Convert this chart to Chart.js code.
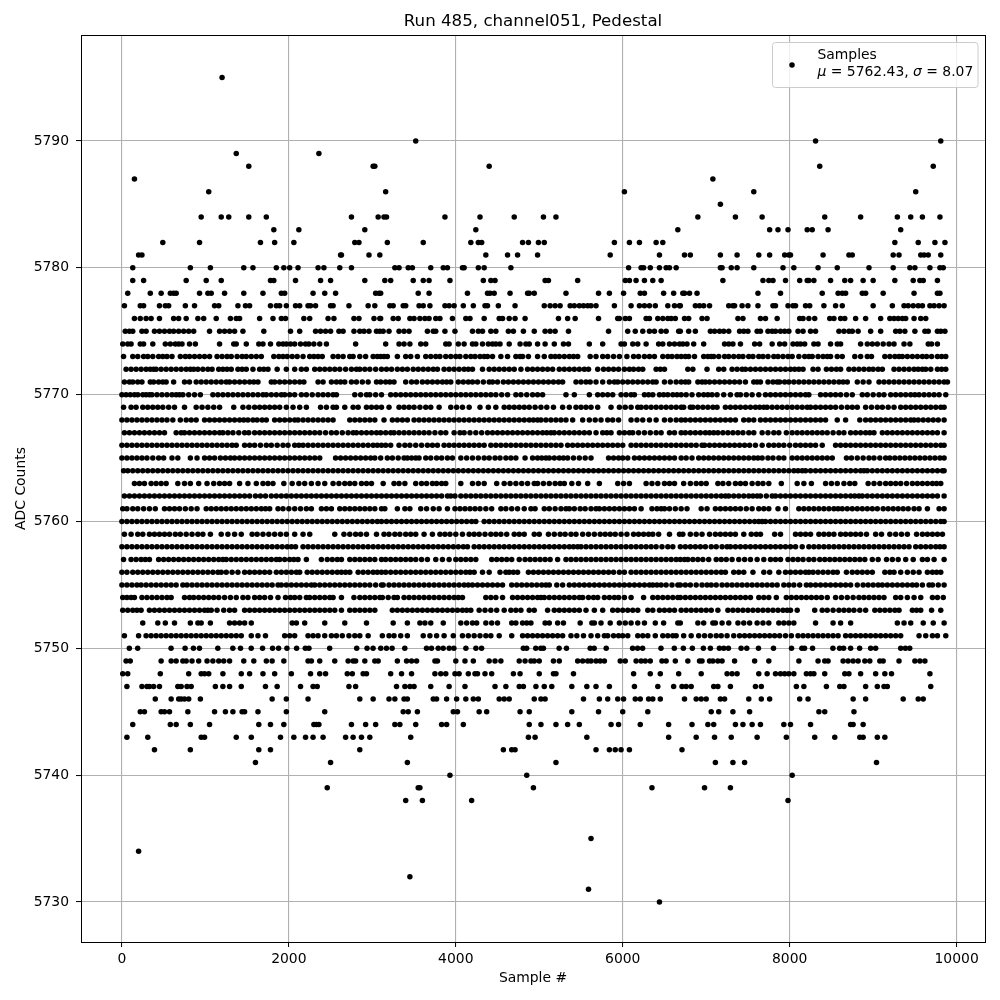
<!DOCTYPE html>
<html lang="en">
<head>
<meta charset="UTF-8">
<title>Run 485, channel051, Pedestal</title>
<script src="https://cdn.jsdelivr.net/npm/chart.js"></script>
<style>
    html, body { margin: 0; background: #fff; }
    canvas { display: block; }
</style>
</head>
<body>
<canvas id="pedestalChart" width="1000" height="1000"></canvas>
<script>
const chartTitle = 'Run 485, channel051, Pedestal';
const xLabel = 'Sample #';
const yLabel = 'ADC Counts';
const seriesLabel = 'Samples';
const meanText = '5762.43';
const sigmaText = '8.07';
const xTicks = [0, 2000, 4000, 6000, 8000, 10000];
const yTicks = [5730, 5740, 5750, 5760, 5770, 5780, 5790];

// Sample numbers, one list per ADC level
const row5795 = [1200];
const row5790 = [3520,8310,9810];
const row5789 = [1370,2360];
const row5788 = [1520,3010,3030,4400,8360,9720];
const row5787 = [150,7080];
const row5786 = [1040,3160,6020,7570,9510];
const row5785 = [7170];
const row5784 = [950,1190,1280,1520,1730,2750,3070,3140,3170,3870,4290,4700,5050,5200,6900,7350,7670,8420,8850,9290,9450,9590,9800];
const row5783 = [1820,2120,2910,4240,6660,7760,7860,7980,8210,8270,8460,9330];
const row5782 = [490,930,1660,1830,2060,2790,2840,3180,3610,4180,4270,4310,4800,4870,4990,5060,5900,6080,6200,6400,6480,9260,9540,9740,9860];
const row5781 = [200,240,2620,2630,2960,3090,4360,4620,4740,4980,5850,6440,6740,6810,7170,7370,7630,7760,7940,7990,8010,8400,8710,8750,9240,9310,9570,9610,9660,9810];
const row5780 = [130,820,1060,1460,1570,1850,1940,2010,2110,2350,2420,2610,2750,3270,3320,3430,3480,3700,3850,3900,4080,4100,4270,4340,4660,6070,6220,6250,6330,6440,6520,6560,6640,7170,7190,7300,7370,7570,7920,8050,8340,8570,8950,9240,9440,9500,9680,9800,9840];
const row5779 = [130,260,770,1010,1190,1780,1820,2080,2380,2500,2910,3150,3220,3490,3610,3680,3930,4330,4420,4470,5070,5110,5460,6030,6080,6160,6260,6360,6460,7200,7680,7750,7800,7950,8120,8210,8230,8290,8490,8660,8730,8880,9000,9260,9480,9560,9600,9770];
const row5778 = [70,340,470,580,620,650,930,1030,1070,1230,1460,1690,1910,1950,2290,2430,2560,3040,3080,3100,3550,3680,4140,4380,4410,4460,4650,4860,4880,4940,5320,5710,5840,6010,6210,6260,6490,6610,6720,6740,6800,6890,7620,7890,8390,8580,8630,8670,8870,8910,9120,9490,9770,9800];
const row5777 = [30,220,260,450,520,560,760,870,1110,1160,1390,1480,1530,1780,1850,1890,1970,2080,2130,2230,2260,2320,2500,2530,2720,2950,3030,3210,3250,3370,3400,3560,3610,3690,3870,3920,3980,4090,4210,4350,4380,4510,4710,5060,5130,5190,5250,5370,5420,5480,5530,5580,5620,5680,5900,6100,6200,6260,6320,6390,6540,6620,6680,6690,6870,6920,6970,7040,7270,7320,7340,7430,7500,7620,7800,7830,7980,8040,8070,8190,8240,8410,8550,8630,9000,9230,9370,9420,9480,9540,9590,9680,9730,9790,9850];
const row5776 = [150,220,290,350,450,620,680,770,910,980,1130,1300,1370,1410,1650,1810,1910,1960,2180,2250,2470,2540,2780,2840,3020,3090,3100,3250,3310,3450,3500,3570,3630,3680,3760,3810,3960,4120,4170,4340,4520,4560,4640,4710,4830,5230,5340,5430,5710,5940,5960,6030,6080,6280,6320,6420,6480,6540,6580,6630,6740,6790,6950,7010,7380,7440,7650,7710,7850,8120,8160,8230,8300,8480,8530,8610,8660,8790,8910,9090,9200,9250,9300,9350,9390,9490,9570,9630];
const row5775 = [40,90,130,240,290,390,450,510,570,620,680,740,800,860,1050,1170,1230,1290,1350,1450,1700,2020,2130,2320,2380,2440,2500,2600,2650,2780,2850,2900,2960,3050,3090,3130,3200,3320,3380,3440,3660,3730,3760,3870,3990,4200,4270,4320,4420,4480,4630,4690,4810,4940,5070,5130,5190,5350,5830,6060,6150,6240,6320,6380,6460,6520,6670,6690,6790,6870,7050,7100,7160,7210,7270,7400,7450,7500,7610,7650,7740,7790,7830,7890,7940,7990,8100,8160,8250,8310,8590,8650,8710,8750,8820,8970,9090,9270,9320,9380,9500,9620,9660,9770,9810,9860];
const row5774 = [10,70,110,220,260,370,520,580,640,680,720,810,880,1170,1340,1370,1490,1640,1690,1780,1880,1930,1970,2020,2070,2140,2200,2240,2300,2370,2450,2800,3160,3320,3380,3450,3580,3640,3880,3920,4030,4100,4200,4240,4320,4390,4440,4480,4530,4640,4770,4840,4880,4980,5070,5180,5290,5350,5600,5760,5980,6020,6120,6180,6280,6430,6480,6560,6620,6680,6720,6770,6850,6970,7220,7270,7320,7410,7580,7640,7790,7880,7940,8040,8090,8130,8180,8290,8340,8490,8570,8610,8850,8930,8990,9050,9120,9190,9250,9370,9440,9660,9700,9770];
const row5773 = [20,130,190,260,310,370,440,490,540,600,700,760,810,870,930,990,1050,1140,1200,1260,1310,1380,1440,1490,1550,1610,1670,1820,1880,1930,1980,2040,2100,2170,2250,2300,2350,2400,2530,2590,2650,2730,2770,2850,2920,3010,3060,3100,3140,3180,3300,3400,3460,3540,3640,3700,3760,3810,3880,3940,4000,4050,4120,4180,4230,4290,4340,4380,4440,4540,4620,4720,4770,4800,4870,4980,5060,5140,5190,5240,5300,5360,5410,5460,5610,5680,5760,5820,5890,5960,6050,6130,6190,6260,6320,6380,6480,6540,6590,6650,6700,6750,6790,6860,6970,7020,7060,7090,7150,7220,7270,7330,7390,7440,7510,7560,7630,7680,7740,7810,7860,7920,7980,8030,8110,8180,8230,8270,8340,8400,8450,8490,8570,8630,8780,8850,8930,8980,9140,9200,9260,9310,9350,9410,9470,9530,9590,9640,9700,9770,9820,9870];
const row5772 = [50,110,170,230,290,340,380,410,470,530,590,650,710,770,820,860,910,970,1030,1080,1160,1210,1260,1310,1390,1440,1490,1570,1650,1700,1750,1860,1970,2070,2150,2210,2310,2370,2430,2490,2550,2610,2680,2750,2810,2850,2910,2970,3040,3110,3170,3230,3300,3360,3420,3490,3550,3610,3670,3730,3780,3860,3920,3980,4040,4100,4150,4200,4320,4400,4460,4520,4580,4640,4700,4780,4860,4920,4980,5040,5100,5160,5240,5300,5360,5420,5480,5540,5590,5700,5770,5830,5890,5950,6020,6080,6130,6190,6240,6400,6450,6500,6780,6840,7010,7150,7210,7310,7370,7430,7470,7530,7590,7650,7710,7770,7830,7890,7950,8010,8060,8110,8160,8280,8340,8440,8500,8560,8610,8710,8770,8830,8890,8950,9000,9060,9110,9250,9310,9370,9430,9490,9540,9590,9630,9690,9770,9820,9870];
const row5771 = [30,90,130,190,240,340,380,440,490,530,620,750,810,890,950,1010,1070,1130,1190,1250,1290,1350,1410,1470,1530,1580,1630,1790,1830,1890,1950,2010,2070,2130,2180,2350,2410,2510,2570,2620,2670,2750,2810,2880,2950,3050,3100,3160,3210,3260,3400,3470,3530,3600,3660,3720,3780,3840,3890,3940,4030,4090,4150,4200,4260,4330,4400,4440,4500,4570,4630,4690,4750,4810,4870,4930,4990,5050,5110,5170,5230,5280,5440,5500,5560,5610,5680,5760,5840,5900,5940,6000,6060,6120,6180,6240,6300,6360,6400,6500,6570,6640,6700,6750,6790,6900,6950,6990,7040,7100,7160,7220,7280,7340,7400,7470,7570,7610,7650,7740,7800,7850,7880,7940,7990,8050,8110,8170,8230,8290,8350,8410,8470,8530,8590,8640,8690,8810,8880,8950,9070,9130,9190,9250,9310,9370,9430,9490,9550,9610,9670,9730,9790,9850,9890];
const row5770 = [0,50,100,150,190,250,290,330,360,420,480,540,600,650,690,730,800,870,940,1090,1150,1210,1270,1330,1390,1450,1510,1570,1630,1690,1730,1790,1850,1910,1950,2010,2070,2150,2210,2280,2350,2410,2470,2530,2570,2790,2860,2930,2970,3040,3110,3220,3280,3340,3400,3460,3520,3580,3640,3700,3760,3820,3880,3940,4000,4060,4120,4180,4240,4300,4360,4420,4480,4550,4620,4720,4780,4850,4920,4980,5040,5320,5420,5600,5700,5760,5820,5880,5980,6040,6100,6140,6260,6310,6360,6440,6490,6540,6600,6650,6700,6760,6830,6910,6970,7020,7070,7130,7210,7290,7370,7410,7480,7550,7630,7710,7770,7830,7890,7950,8010,8070,8130,8190,8230,8370,8430,8490,8550,8610,8680,8750,8870,8930,9000,9070,9130,9210,9270,9330,9390,9450,9500,9550,9610,9670,9730,9790,9870];
const row5769 = [20,110,170,250,310,370,430,490,560,630,750,890,960,1030,1100,1170,1340,1450,1520,1590,1650,1710,1770,1830,1890,1970,2050,2130,2210,2380,2450,2530,2570,2670,2770,2830,2930,2990,3050,3110,3200,3320,3380,3440,3500,3570,3640,3700,3800,3940,4010,4080,4160,4290,4390,4480,4580,4640,4700,4760,4820,4880,4950,5020,5090,5170,5280,5360,5440,5500,5560,5620,5700,5860,5960,6030,6100,6180,6220,6280,6340,6400,6460,6520,6580,6640,6700,6730,6810,6840,6900,6960,7020,7080,7130,7230,7290,7350,7410,7470,7530,7590,7640,7690,7730,7790,7850,7910,7970,8030,8090,8150,8210,8250,8310,8370,8430,8490,8550,8620,8690,8750,8810,8910,8980,9050,9110,9180,9250,9330,9390,9450,9510,9570,9630,9690,9750,9810,9850];
const row5768 = [0,60,120,180,240,300,360,420,480,540,610,700,770,830,890,990,1050,1110,1170,1230,1290,1350,1410,1460,1510,1570,1620,1680,1730,1830,1890,1950,2010,2070,2110,2170,2230,2290,2350,2410,2470,2530,2730,2790,2850,2910,2970,3030,3140,3240,3300,3360,3420,3500,3560,3620,3680,3740,3800,3860,3920,3980,4040,4100,4160,4220,4280,4340,4400,4460,4520,4580,4640,4700,4760,4820,4880,4930,4980,5020,5080,5140,5200,5260,5320,5400,5520,5600,5670,5740,5820,5880,5950,6100,6170,6240,6320,6400,6500,6570,6640,6700,6750,6810,6870,6930,6990,7050,7110,7170,7230,7290,7350,7450,7510,7570,7650,7710,7770,7830,7890,7950,8010,8070,8130,8190,8250,8310,8370,8430,8570,8670,8840,8910,8970,9030,9090,9150,9210,9270,9330,9390,9450,9490,9540,9600,9660,9720,9780,9850];
const row5767 = [30,90,150,210,270,330,390,450,510,650,710,750,810,870,930,990,1050,1110,1170,1210,1270,1330,1400,1470,1520,1590,1650,1710,1770,1830,1890,1950,2010,2070,2130,2190,2250,2310,2370,2440,2510,2570,2640,2710,2770,2810,2870,2930,2990,3050,3100,3160,3220,3260,3320,3380,3440,3500,3560,3620,3680,3750,3820,3880,3980,4050,4100,4170,4240,4310,4380,4440,4500,4560,4620,4680,4740,4800,4860,4920,4980,5040,5090,5140,5180,5240,5300,5360,5420,5480,5540,5600,5680,5760,5810,5860,5960,6020,6080,6120,6190,6260,6330,6400,6460,6560,6620,6700,6750,6810,6870,6930,6990,7040,7090,7140,7200,7260,7320,7380,7440,7510,7570,7670,7740,7810,7870,7960,8030,8090,8150,8210,8270,8330,8390,8450,8520,8590,8650,8730,8790,8850,8910,8960,9010,9110,9170,9230,9290,9350,9410,9470,9530,9590,9650,9710,9770,9850];
const row5766 = [0,60,120,180,240,300,360,420,480,540,600,660,720,780,840,900,960,1020,1080,1140,1200,1260,1320,1370,1470,1530,1590,1660,1730,1790,1860,1930,1990,2070,2120,2170,2230,2290,2350,2410,2470,2530,2590,2650,2710,2770,2830,2890,2950,3010,3060,3110,3160,3220,3320,3390,3450,3520,3590,3660,3720,3780,3860,3920,3980,4040,4100,4160,4220,4280,4340,4420,4480,4540,4600,4660,4720,4780,4840,4900,4960,5020,5080,5140,5200,5260,5340,5400,5460,5520,5580,5640,5700,5760,5820,5880,5940,6000,6100,6160,6220,6280,6340,6400,6460,6520,6580,6640,6700,6760,6820,6880,6950,6980,7040,7100,7160,7220,7280,7340,7400,7460,7520,7590,7670,7750,7810,7870,7930,8000,8070,8130,8190,8250,8310,8390,8550,8610,8670,8730,8790,8850,8910,8970,9030,9090,9150,9210,9270,9330,9390,9450,9510,9570,9630,9690,9750,9810,9850];
const row5765 = [0,60,120,180,240,300,370,440,500,600,670,820,900,990,1050,1110,1180,1240,1300,1350,1410,1470,1530,1590,1650,1710,1770,1830,1890,1950,2010,2070,2130,2190,2250,2310,2370,2560,2620,2680,2740,2800,2860,2920,2980,3030,3100,3180,3240,3310,3380,3420,3470,3520,3560,3640,3700,3770,3830,3900,3960,4060,4130,4200,4270,4340,4400,4470,4530,4600,4660,4720,4830,4920,4980,5030,5080,5120,5180,5240,5290,5340,5410,5480,5550,5620,5830,5890,5950,6000,6060,6140,6200,6260,6320,6380,6440,6500,6560,6620,6700,6760,6830,6910,6970,7030,7090,7150,7210,7270,7330,7390,7450,7510,7570,7620,7670,7740,7800,7870,7930,8030,8090,8150,8210,8270,8330,8390,8450,8510,8680,8740,8810,8880,8950,9010,9080,9150,9200,9260,9320,9380,9440,9500,9560,9620,9680,9740,9800,9850];
const row5764 = [20,70,130,190,250,310,370,430,490,550,610,670,730,790,850,910,970,1030,1090,1150,1210,1270,1330,1390,1450,1510,1570,1630,1690,1750,1810,1870,1930,1990,2050,2110,2170,2230,2290,2350,2410,2470,2530,2590,2650,2710,2770,2830,2890,2950,3010,3070,3130,3190,3250,3310,3370,3430,3490,3550,3610,3670,3730,3790,3850,3910,3970,4030,4090,4150,4210,4270,4330,4390,4450,4510,4570,4630,4690,4750,4810,4870,4930,4990,5050,5110,5170,5230,5290,5350,5410,5470,5530,5590,5650,5710,5770,5830,5890,5950,6010,6070,6130,6190,6250,6310,6370,6430,6490,6550,6610,6670,6730,6790,6850,6910,6970,7030,7090,7150,7210,7270,7330,7390,7450,7510,7570,7630,7690,7750,7810,7870,7930,7990,8050,8100,8150,8190,8250,8310,8370,8430,8490,8550,8610,8670,8730,8790,8850,8890,8930,8990,9050,9110,9170,9230,9290,9350,9410,9470,9530,9590,9650,9710,9770,9830,9850];
const row5763 = [150,210,270,350,410,470,530,670,750,820,920,1020,1100,1170,1230,1290,1410,1510,1610,1690,1750,1810,1940,2040,2120,2190,2270,2350,2430,2530,2600,2670,2730,2790,2870,2930,2990,3130,3260,3320,3390,3520,3590,3650,3720,3770,3830,3880,4060,4200,4270,4340,4490,4580,4650,4720,4790,4860,4940,4980,5050,5120,5190,5250,5300,5390,5470,5580,5720,5940,6010,6080,6280,6350,6420,6500,6560,6620,6730,6810,6880,6940,7000,7140,7200,7270,7350,7410,7470,7550,7620,7680,7750,7900,8090,8170,8260,8430,8500,8570,8650,8720,8780,8940,9010,9080,9150,9210,9270,9330,9400,9470,9530,9590,9650,9710,9760,9810];
const row5762 = [30,90,150,210,270,330,390,450,510,570,630,690,750,810,870,930,990,1050,1110,1170,1230,1290,1350,1410,1470,1530,1600,1660,1720,1790,1850,1910,1970,2030,2090,2150,2210,2270,2330,2390,2450,2510,2570,2630,2690,2750,2810,2870,2930,2990,3050,3110,3170,3230,3290,3350,3410,3470,3530,3590,3650,3710,3770,3830,3900,3940,3990,4060,4120,4180,4240,4300,4360,4420,4480,4540,4600,4660,4720,4780,4840,4900,4960,5020,5080,5140,5200,5260,5320,5380,5440,5500,5560,5620,5680,5740,5800,5860,5920,5980,6040,6100,6160,6220,6280,6340,6400,6460,6520,6580,6640,6700,6760,6820,6880,6940,7000,7060,7120,7180,7230,7270,7330,7390,7450,7510,7560,7610,7650,7720,7790,7830,7890,7950,8010,8070,8130,8190,8250,8310,8370,8430,8490,8550,8610,8670,8730,8780,8830,8870,8930,8990,9050,9110,9170,9230,9290,9350,9410,9470,9530,9590,9650,9710,9770,9850];
const row5761 = [10,60,130,190,260,330,400,510,570,630,690,760,830,900,1010,1070,1130,1190,1250,1310,1370,1430,1490,1550,1610,1670,1720,1770,1870,1930,2000,2070,2140,2210,2270,2390,2450,2510,2610,2670,2730,2790,2850,2910,2970,3030,3110,3150,3300,3390,3450,3580,3650,3730,3800,3900,3990,4050,4110,4170,4230,4290,4360,4430,4540,4600,4670,4740,4820,4900,4950,5060,5120,5190,5260,5320,5360,5420,5490,5550,5620,5680,5720,5780,5840,5900,5960,6020,6080,6140,6220,6350,6410,6460,6500,6560,6630,6700,6770,6940,7010,7110,7170,7230,7290,7350,7410,7480,7550,7630,7690,7750,7860,7950,8110,8170,8230,8290,8350,8410,8470,8530,8580,8630,8690,8750,8810,8870,8930,8990,9050,9120,9180,9240,9300,9360,9420,9490,9550,9650,9790,9850];
const row5760 = [0,60,120,180,240,300,360,420,480,540,600,660,720,780,840,900,960,1020,1080,1140,1200,1260,1320,1380,1440,1500,1560,1620,1680,1740,1800,1860,1920,1980,2040,2100,2160,2220,2280,2340,2400,2460,2520,2580,2640,2700,2760,2820,2880,2940,3000,3060,3110,3170,3230,3290,3350,3410,3470,3530,3590,3650,3710,3770,3830,3890,3950,4010,4070,4130,4190,4240,4340,4400,4460,4520,4580,4640,4700,4760,4820,4880,4940,5000,5060,5120,5180,5240,5300,5360,5420,5480,5540,5600,5660,5720,5780,5840,5900,5960,6020,6080,6140,6200,6260,6320,6380,6440,6500,6560,6620,6680,6740,6800,6860,6920,6980,7040,7100,7160,7220,7280,7340,7400,7460,7520,7580,7630,7670,7710,7770,7830,7890,7950,8010,8070,8130,8190,8250,8310,8370,8430,8490,8550,8610,8670,8730,8790,8850,8910,8970,9030,9090,9150,9210,9270,9330,9390,9450,9510,9570,9630,9690,9750,9810,9850];
const row5759 = [30,110,190,250,330,390,450,510,570,640,700,770,840,910,970,1060,1190,1270,1350,1430,1560,1620,1690,1760,1830,1900,1970,2070,2170,2250,2550,2660,2730,2800,2860,2930,3050,3140,3200,3270,3330,3400,3460,3520,3620,3720,3810,3870,3930,4000,4080,4160,4220,4280,4350,4420,4480,4540,4610,4700,4760,4820,4940,5000,5110,5180,5250,5310,5380,5440,5520,5590,5660,5730,5790,5850,5910,5980,6050,6130,6190,6250,6310,6360,6430,6560,6680,6720,6810,6880,6950,7040,7110,7170,7230,7290,7350,7450,7540,7600,7650,7820,7890,8070,8130,8190,8250,8350,8410,8470,8530,8610,8670,8730,8790,8850,8920,9030,9100,9200,9270,9340,9410,9520,9590,9650,9710,9770,9830];
const row5758 = [0,60,120,180,240,300,360,420,480,540,600,660,720,780,840,900,960,1020,1080,1140,1200,1260,1320,1380,1440,1500,1560,1620,1680,1740,1800,1860,1920,1980,2030,2080,2170,2230,2290,2350,2410,2470,2530,2590,2650,2710,2770,2830,2890,2950,3010,3070,3130,3190,3250,3310,3370,3430,3490,3550,3610,3670,3730,3790,3850,3910,3970,4030,4090,4140,4220,4280,4340,4400,4460,4520,4580,4640,4700,4760,4820,4880,4940,5000,5060,5120,5180,5240,5300,5360,5410,5460,5500,5560,5620,5680,5740,5800,5860,5920,5980,6040,6100,6160,6220,6280,6340,6400,6470,6540,6600,6690,6750,6810,6870,6930,6990,7060,7120,7190,7250,7290,7350,7410,7470,7530,7590,7650,7710,7770,7830,7890,7950,8010,8070,8150,8230,8290,8350,8410,8470,8530,8590,8650,8710,8770,8830,8890,8950,9010,9070,9130,9190,9250,9310,9370,9430,9510,9570,9630,9690,9750,9800,9850];
const row5757 = [20,110,170,230,280,330,440,500,560,620,680,740,800,860,920,980,1040,1100,1160,1210,1250,1310,1370,1430,1490,1550,1610,1670,1730,1790,1850,1890,1950,2010,2060,2110,2210,2390,2460,2520,2580,2630,2730,2790,2850,2910,2970,3030,3110,3160,3220,3280,3340,3400,3460,3520,3590,3660,3760,3840,3920,4000,4060,4120,4180,4240,4430,4490,4550,4610,4670,4760,4830,4890,4950,5010,5070,5130,5220,5320,5380,5440,5500,5560,5620,5680,5740,5800,5860,5920,5980,6040,6100,6160,6220,6280,6340,6400,6460,6520,6580,6640,6690,6740,6780,6840,6900,6960,7030,7120,7180,7240,7310,7390,7460,7530,7610,7690,7770,7830,7890,7980,8040,8100,8160,8230,8290,8360,8420,8480,8540,8600,8660,8720,8780,8840,8900,8990,9060,9160,9230,9300,9390,9480,9590,9650,9730,9850];
const row5756 = [0,60,130,190,250,310,370,430,490,550,610,670,730,790,850,910,970,1030,1090,1150,1190,1250,1320,1390,1470,1530,1590,1650,1710,1770,1850,1910,1970,2030,2090,2130,2220,2280,2340,2400,2460,2520,2580,2630,2680,2730,2830,2890,2950,3010,3060,3110,3160,3220,3280,3340,3400,3460,3520,3580,3640,3700,3760,3820,3880,3940,4000,4060,4120,4170,4220,4320,4400,4530,4600,4640,4690,4740,4870,4930,4990,5050,5110,5170,5230,5290,5350,5410,5470,5530,5590,5650,5710,5770,5830,5890,5960,6020,6100,6160,6220,6280,6340,6400,6460,6520,6580,6640,6700,6760,6820,6880,6940,7000,7060,7120,7180,7230,7330,7390,7450,7560,7690,7760,7870,7950,8010,8070,8130,8190,8230,8280,8340,8400,8460,8520,8570,8680,8750,8810,8870,8930,8990,9140,9200,9250,9330,9410,9480,9550,9650,9710,9760,9810];
const row5755 = [0,60,120,180,230,290,350,410,470,530,590,650,730,780,840,900,960,1020,1080,1140,1200,1260,1320,1380,1440,1500,1560,1620,1680,1740,1800,1870,1910,1970,2030,2090,2150,2210,2270,2310,2370,2430,2490,2550,2610,2670,2730,2790,2850,2910,2970,3040,3110,3130,3200,3260,3320,3380,3440,3500,3560,3620,3680,3740,3800,3860,3920,3980,4040,4100,4150,4200,4260,4320,4380,4440,4500,4560,4670,4730,4790,4850,4910,4970,5030,5080,5120,5210,5280,5360,5420,5480,5540,5600,5660,5720,5780,5840,5900,5960,6020,6080,6140,6200,6260,6320,6360,6410,6460,6520,6590,6660,6690,6750,6810,6880,6950,7010,7060,7120,7190,7250,7310,7370,7430,7490,7550,7610,7670,7730,7790,7850,7930,7990,8050,8120,8200,8250,8310,8370,8430,8490,8550,8610,8670,8730,8810,8880,8940,9000,9060,9110,9170,9230,9290,9350,9410,9470,9520,9590,9670,9710,9780,9850];
const row5754 = [10,60,110,150,240,300,360,420,480,540,590,750,810,860,920,980,1040,1100,1160,1230,1300,1370,1450,1510,1590,1650,1710,1780,1870,1960,2020,2070,2130,2210,2250,2310,2370,2430,2490,2530,2630,2780,2850,2910,2970,3030,3090,3120,3190,3260,3300,3380,3440,3500,3560,3620,3680,3740,3800,3860,3920,3980,4030,4080,4360,4420,4480,4560,4680,4740,4800,4860,4920,4980,5020,5060,5120,5180,5240,5300,5360,5420,5480,5520,5590,5650,5700,5780,5840,5900,5950,6020,6100,6250,6360,6420,6480,6540,6600,6660,6690,6750,6810,6870,6930,6990,7050,7110,7170,7230,7290,7350,7410,7470,7530,7630,7690,7750,7840,7960,8020,8080,8140,8200,8260,8320,8380,8450,8550,8620,8690,8760,8830,8890,8950,9010,9070,9130,9270,9330,9410,9490,9570,9710,9770,9840];
const row5753 = [10,70,130,180,230,330,390,450,510,570,630,690,750,810,870,930,990,1030,1070,1140,1220,1290,1350,1470,1530,1590,1650,1710,1770,1830,1890,1950,2010,2070,2130,2190,2250,2310,2370,2430,2490,2550,2630,2730,2790,2850,2910,2970,3030,3240,3300,3360,3420,3480,3540,3600,3660,3720,3780,3840,3900,3960,4020,4080,4130,4180,4280,4350,4420,4490,4580,4660,4720,4780,4880,4940,5100,5180,5240,5300,5360,5420,5480,5560,5660,5760,5880,5940,6000,6060,6120,6180,6300,6360,6440,6500,6560,6620,6700,6760,6820,6880,6940,7000,7060,7140,7260,7320,7380,7440,7500,7560,7620,7680,7740,7800,7860,7920,7970,8010,8090,8300,8390,8450,8520,8590,8650,8710,8770,8840,8910,9020,9080,9140,9200,9260,9310,9470,9520,9570,9700,9810];
const row5752 = [250,430,520,630,820,910,950,1060,1290,1350,1410,1470,1550,2040,2090,2190,2430,2670,2930,3250,3420,3570,3630,3700,3850,4060,4130,4200,4250,4360,4430,4500,4670,4720,4800,4850,4900,5070,5120,5220,5290,5490,5630,5660,5740,5850,5960,6030,6100,6180,6260,6390,6490,6660,6690,6900,6970,7080,7110,7190,7270,7380,7450,7520,7610,7680,7750,7870,7930,7990,8050,8310,8520,8610,8730,9290,9370,9450,9600,9720,9850];
const row5751 = [30,200,290,350,410,470,530,590,650,710,770,830,890,950,1010,1070,1130,1190,1250,1310,1370,1430,1550,1630,1720,1950,2010,2070,2230,2290,2350,2430,2510,2570,2640,2720,2790,2850,2950,3120,3200,3260,3340,3420,3610,3690,3770,3860,3970,4080,4150,4220,4290,4360,4420,4520,4670,4800,4860,4920,4980,5040,5100,5160,5220,5280,5380,5450,5530,5620,5700,5780,5820,5890,5950,6000,6060,6180,6240,6300,6390,6480,6540,6600,6640,6730,6820,6910,6980,7050,7120,7180,7250,7330,7400,7460,7520,7580,7640,7700,7760,7820,7880,7950,8020,8100,8160,8220,8280,8340,8400,8460,8520,8580,8670,8730,8790,8850,8910,8970,9030,9090,9150,9210,9270,9330,9550,9630,9710,9770,9870];
const row5750 = [89,189,589,757,857,929,1149,1329,1421,1549,1685,1805,1877,1977,2093,2197,2241,2489,2813,2937,3009,3101,3169,3237,3389,3649,3709,3789,3849,3921,3977,4121,4241,4309,4809,4849,4958,5018,5050,5238,5326,5610,5658,5802,6118,6178,6238,6458,6618,6726,6834,6966,7050,7158,7210,7266,7418,7486,7626,7806,8022,8146,8178,8274,8518,8598,8646,8730,8838,8970,9030,9330,9386,9438];
const row5749 = [50,100,470,590,650,730,770,840,920,1020,1090,1160,1220,1290,1460,1580,1730,1800,1940,2230,2270,2370,2550,2710,2770,2800,2910,3030,3070,3300,3410,3470,3530,3750,3780,4000,4110,4210,4400,4470,4540,4760,4830,4900,4940,5000,5170,5240,5460,5520,5580,5620,5680,5730,5780,5970,6030,6160,6220,6270,6330,6470,6520,6630,6780,6920,6950,7040,7080,7140,7190,7340,7580,7750,8110,8340,8420,8460,8640,8700,8760,8820,8900,8960,9080,9120,9310,9500,9560,9620];
const row5748 = [10,70,460,800,950,990,1040,1210,1430,1530,1690,1830,2030,2260,2370,2440,2700,2760,2890,2930,3220,3350,3470,3750,3820,3880,3990,4040,4150,4230,4260,4350,4430,4690,4770,5000,5170,5200,5410,6130,6330,6450,6670,6940,7250,7310,7370,7630,7730,7830,7890,7940,7990,8050,8200,8250,8290,8420,8660,8710,8850,9030,9140,9220,9680];
const row5747 = [60,240,300,330,380,450,670,710,780,830,1120,1210,1290,1430,1720,1860,2140,2290,2340,2720,2800,3290,3390,3450,3500,3700,3920,4110,4470,4600,4760,4810,4960,5060,5150,5390,5570,5680,5840,6140,6420,6610,6710,6760,6820,7090,7140,7290,7590,7660,8080,8170,8440,8600,8650,8910,9050,9130,9170,9690];
const row5746 = [400,590,680,710,750,800,940,1800,1970,2230,2850,3010,3200,3270,3380,3420,3730,3770,3890,4010,4120,4210,4270,4520,4580,4640,4940,5020,5070,5530,5720,5820,5940,6010,6150,6210,6310,6360,6450,6740,6880,6940,7000,7170,7220,7510,7660,7760,8120,8220,8760,8910,9360,9540,9600];
const row5745 = [220,270,470,510,570,790,1110,1240,1330,1440,1470,1630,1970,2430,3370,3430,3540,3970,4020,4280,4370,4770,4880,5390,5710,6000,6300,7060,7150,7320,7520,8350,8420,8770];
const row5744 = [130,580,650,820,1050,1640,1780,1940,2300,2330,2360,2750,2920,3040,3270,3330,3520,3830,3890,4090,4880,5020,5200,5340,5480,5860,5950,6210,6550,6830,7020,7090,7350,7440,7550,7650,7930,8010,8250,8730,8760,8880];
const row5743 = [60,310,950,990,1370,1550,1900,2060,2200,2290,2410,2680,2770,2870,2970,3460,4870,4950,5570,6550,6880,7100,7300,7610,7960,8300,8540,8840,8880,9050,9140];
const row5742 = [390,820,1640,1780,2850,4570,4670,4710,5680,5840,5910,5980,6080,6710];
const row5741 = [1600,2500,3420,5200,7110,7320,7460,9040];
const row5740 = [3930,4850,8030];
const row5739 = [2460,3550,3570,4930,6350,6980,7290];
const row5738 = [3400,3600,4190,7980];
const row5735 = [5620];
const row5734 = [200];
const row5732 = [3450];
const row5731 = [5590];
const row5730 = [6440];

const levels = [5795,5790,5789,5788,5787,5786,5785,5784,5783,5782,5781,5780,5779,5778,5777,5776,5775,5774,5773,5772,5771,5770,5769,5768,5767,5766,5765,5764,5763,5762,5761,5760,5759,5758,5757,5756,5755,5754,5753,5752,5751,5750,5749,5748,5747,5746,5745,5744,5743,5742,5741,5740,5739,5738,5735,5734,5732,5731,5730];
const rows = [row5795,row5790,row5789,row5788,row5787,row5786,row5785,row5784,row5783,row5782,row5781,row5780,row5779,row5778,row5777,row5776,row5775,row5774,row5773,row5772,row5771,row5770,row5769,row5768,row5767,row5766,row5765,row5764,row5763,row5762,row5761,row5760,row5759,row5758,row5757,row5756,row5755,row5754,row5753,row5752,row5751,row5750,row5749,row5748,row5747,row5746,row5745,row5744,row5743,row5742,row5741,row5740,row5739,row5738,row5735,row5734,row5732,row5731,row5730];

const points = [];
rows.forEach((row, i) => {
    row.forEach(x => points.push({ x: x, y: levels[i] }));
});

Chart.defaults.font.family = '"DejaVu Sans", sans-serif';
Chart.defaults.font.size = 13.9;
Chart.defaults.color = '#000';

// top and right spines, drawn over the marks like the other axes lines
const framePlugin = {
    id: 'frame',
    afterDatasetsDraw(chart) {
        const a = chart.chartArea;
        const ctx = chart.ctx;
        ctx.save();
        ctx.strokeStyle = '#000';
        ctx.lineWidth = 1;
        ctx.strokeRect(Math.round(a.left) + 0.5, Math.round(a.top) + 0.5, Math.round(a.width), Math.round(a.height));
        ctx.restore();
    }
};

// legend sits inside the axes and has a mixed italic line, so it is drawn here
const legendPlugin = {
    id: 'insideLegend',
    afterDraw(chart) {
        const ctx = chart.ctx;
        const font = '13.9px "DejaVu Sans"';
        const italic = 'italic 13.9px "DejaVu Sans"';
        ctx.save();
        ctx.beginPath();
        ctx.roundRect(772.5, 42.5, 205.5, 45, 3);
        ctx.fillStyle = 'rgba(255,255,255,0.8)';
        ctx.fill();
        ctx.strokeStyle = '#ccc';
        ctx.lineWidth = 1;
        ctx.stroke();

        ctx.beginPath();
        ctx.arc(792, 65, 2.75, 0, Math.PI * 2);
        ctx.fillStyle = '#000';
        ctx.fill();

        ctx.textBaseline = 'alphabetic';
        ctx.font = font;
        ctx.fillText(seriesLabel, 817.5, 59);

        let x = 817.5;
        const parts = [
            ['μ', italic], [' = ' + meanText + ', ', font],
            ['σ', italic], [' = ' + sigmaText, font]
        ];
        parts.forEach(p => {
            ctx.font = p[1];
            ctx.fillText(p[0], x, 76);
            x += ctx.measureText(p[0]).width;
        });
        ctx.restore();
    }
};

new Chart(document.getElementById('pedestalChart'), {
    type: 'scatter',
    data: {
        datasets: [{
            label: seriesLabel,
            data: points,
            backgroundColor: '#000',
            borderWidth: 0,
            pointRadius: 2.75
        }]
    },
    options: {
        responsive: false,
        animation: false,
        layout: { padding: { left: 0, right: 15, top: 0, bottom: 0 } },
        plugins: {
            legend: { display: false },
            tooltip: { enabled: false },
            title: {
                display: true,
                text: chartTitle,
                fullSize: false,
                color: '#000',
                font: { size: 16.67, weight: 'normal', lineHeight: 1.2 },
                padding: { top: 12, bottom: 3 }
            }
        },
        scales: {
            x: {
                type: 'linear',
                min: -490,
                max: 10340,
                afterBuildTicks(scale) { scale.ticks = xTicks.map(v => ({ value: v })); },
                afterFit(scale) { scale.height = 58; },
                ticks: { autoSkip: false, maxRotation: 0, padding: 4, callback: v => String(v) },
                grid: { color: '#b0b0b0', lineWidth: 1.1, tickColor: '#000', tickLength: 5, tickWidth: 1 },
                border: { color: '#000', width: 1 },
                title: { display: true, text: xLabel, font: { size: 13.9 }, padding: { top: 0, bottom: 13 } }
            },
            y: {
                type: 'linear',
                min: 5726.85,
                max: 5798.35,
                afterBuildTicks(scale) { scale.ticks = yTicks.map(v => ({ value: v })); },
                afterFit(scale) { scale.width = 81; },
                ticks: { autoSkip: false, padding: 7, callback: v => String(v) },
                grid: { color: '#b0b0b0', lineWidth: 1.1, tickColor: '#000', tickLength: 5, tickWidth: 1 },
                border: { color: '#000', width: 1 },
                title: { display: true, text: yLabel, font: { size: 13.9 }, padding: { top: 13, bottom: 0 } }
            }
        }
    },
    plugins: [framePlugin, legendPlugin]
});
</script>
</body>
</html>
